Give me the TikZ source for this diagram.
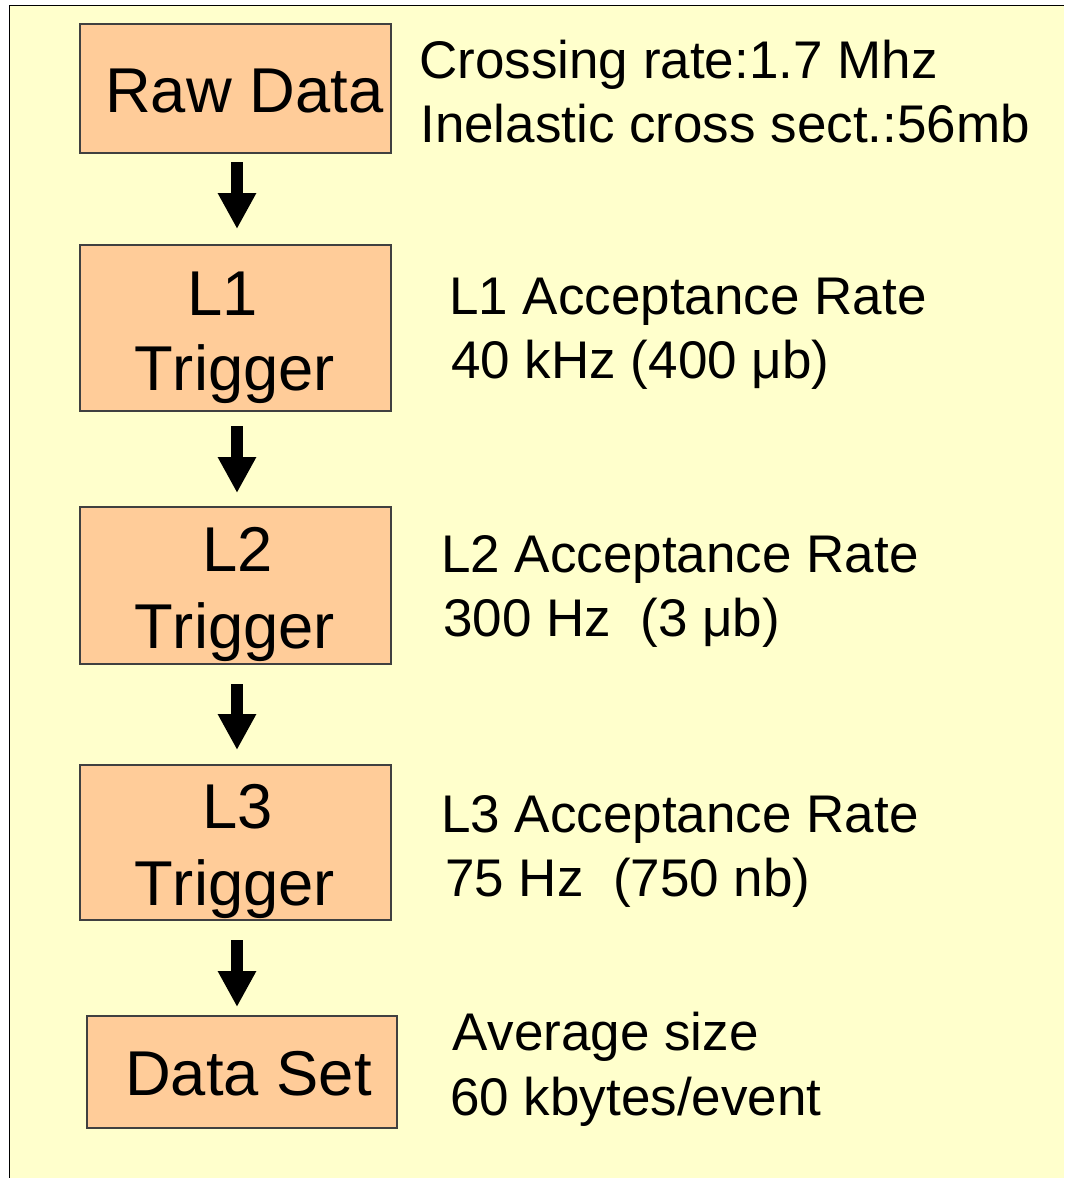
\documentclass[tikz,border=0pt]{standalone}
\usepackage{fontspec}
\setmainfont{Liberation Sans}[Kerning=Off]
\usetikzlibrary{arrows.meta}
\definecolor{bgyellow}{HTML}{FFFFCC}
\definecolor{boxpeach}{HTML}{FFCC99}
\definecolor{boxline}{HTML}{404040}
\tikzset{
  stagebox/.style={draw=boxline, fill=boxpeach, line width=0.9pt},
  boxtext/.style={anchor=base west, inner sep=0pt, font=\fontsize{47.5pt}{56pt}\selectfont},
  sidetext/.style={anchor=base west, inner sep=0pt, font=\fontsize{39.75pt}{48pt}\selectfont},
  blockarrow/.style={line width=9pt, -{Triangle[width=27pt,length=27pt]}},
}
\begin{document}
\begin{tikzpicture}[x=0.75pt, y=-0.75pt]
\useasboundingbox (0,0) rectangle (1064,1178);
\fill[bgyellow] (9.5,5.5) rectangle (1064,1178);
\draw[black, line width=0.9pt] (9.5,1178) -- (9.5,5.5) -- (1064,5.5);
% boxes
\draw[stagebox] (80,24) rectangle (391,153);
\draw[stagebox] (80,245) rectangle (391,411);
\draw[stagebox] (80,507) rectangle (391,664);
\draw[stagebox] (80,765) rectangle (391,920);
\draw[stagebox] (87,1016) rectangle (397,1128);
% box texts
\node[boxtext] (rawt) at (105,112) {Raw Data};
\node[boxtext] (l1a) at (187,315) {L1};
\node[boxtext] (l1b) at (134,390) {Trigger};
\node[boxtext] (l2a) at (202,571) {L2};
\node[boxtext] (l2b) at (134,648) {Trigger};
\node[boxtext] (l3a) at (202,828) {L3};
\node[boxtext] (l3b) at (134,905) {Trigger};
\node[boxtext] (dst) at (125,1095) {Data Set};
% side texts
\node[sidetext] (s1a) at (419,78) {Crossing rate:1.7 Mhz};
\node[sidetext] (s1b) at (420,142) {Inelastic cross sect.:56mb};
\node[sidetext] (s2a) at (449,314) {L1 Acceptance Rate};
\node[sidetext] (s2b) at (451,378) {40 kHz (400 μb)};
\node[sidetext] (s3a) at (441,572) {L2 Acceptance Rate};
\node[sidetext] (s3b) at (443,636) {300 Hz\ \ (3 μb)};
\node[sidetext] (s4a) at (441,832) {L3 Acceptance Rate};
\node[sidetext] (s4b) at (445,896) {75 Hz\ \ (750 nb)};
\node[sidetext] (s5a) at (452,1050) {Average size};
\node[sidetext] (s5b) at (450,1115) {60 kbytes/event};
% arrows
\coordinate (a1s) at (237,162); \coordinate (a1e) at (237,229);
\coordinate (a2s) at (237,426); \coordinate (a2e) at (237,493);
\coordinate (a3s) at (237,684); \coordinate (a3e) at (237,750);
\coordinate (a4s) at (237,940); \coordinate (a4e) at (237,1007);
\draw[blockarrow] (a1s) -- (a1e);
\draw[blockarrow] (a2s) -- (a2e);
\draw[blockarrow] (a3s) -- (a3e);
\draw[blockarrow] (a4s) -- (a4e);
\end{tikzpicture}
\end{document}
